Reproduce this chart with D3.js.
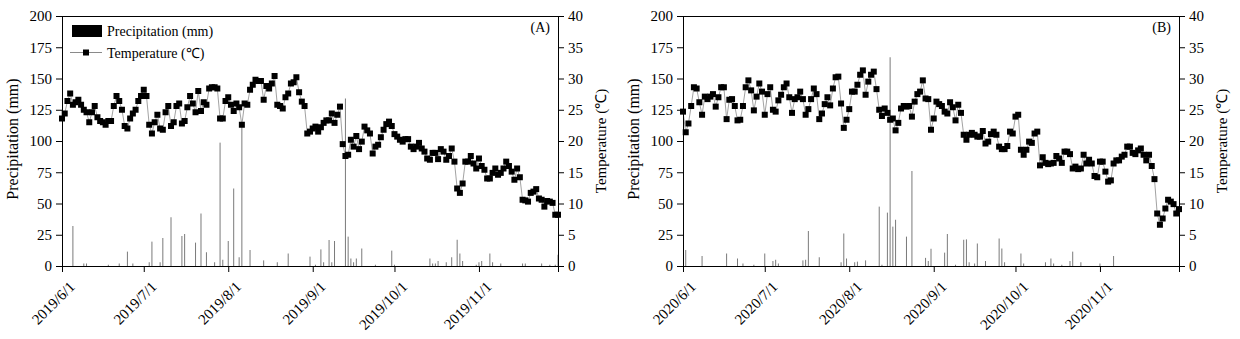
<!DOCTYPE html>
<html>
<head>
<meta charset="utf-8">
<script src="https://cdn.jsdelivr.net/npm/d3@7/dist/d3.min.js"></script>
<style>
body { margin: 0; background: #fff; }
svg text { font-family: "Liberation Serif", "Times New Roman", serif; fill: #000; }
</style>
</head>
<body>
<div id="vis"></div>
<script>
// daily mean temperature (C), 6/1 .. 11/30
var tempA = [23.6,24.4,26.4,27.6,25.8,26.2,26.6,25.8,25.0,24.6,23.0,24.6,25.6,23.8,23.2,23.0,22.6,23.2,23.2,25.6,
	27.2,26.4,25.0,22.4,22.0,23.6,24.4,25.0,26.4,27.2,28.2,27.2,22.6,21.2,23.0,24.2,22.0,21.8,24.6,25.6,
	22.4,23.0,25.6,26.0,22.8,23.2,25.4,27.2,26.0,24.6,28.0,24.8,26.2,25.8,28.4,28.6,28.6,28.4,23.6,23.6,
	26.4,27.0,25.8,24.8,26.0,25.4,22.6,26.0,25.8,28.2,29.0,29.8,29.6,29.6,26.6,28.8,28.4,29.2,30.4,25.8,
	25.6,25.2,27.0,27.6,29.2,29.4,30.2,27.8,26.3,25.6,21.2,21.5,22.0,22.3,21.5,22.2,22.9,23.3,23.3,24.4,
	22.9,24.2,25.5,19.5,17.6,17.8,20.2,19.1,20.8,18.7,19.9,22.3,21.7,21.2,18.0,19.1,19.4,20.6,21.8,22.7,
	23.1,22.4,21.1,20.7,20.2,19.9,20.3,20.3,19.1,18.7,19.1,19.7,18.8,18.3,17.2,17.0,18.1,18.1,17.1,18.7,
	18.3,17.0,17.6,18.8,16.7,12.4,11.7,13.2,16.7,16.7,17.6,16.4,15.6,17.2,16.0,15.4,14.0,14.0,14.9,15.6,
	14.6,14.9,15.6,16.7,16.0,15.1,13.8,15.6,14.2,10.6,10.5,10.3,11.7,11.9,12.3,10.8,10.6,9.5,10.4,10.3,
	10.1,8.2,8.2];
var tempB = [24.7,21.4,22.8,25.6,28.6,28.4,26.2,24.2,27.1,26.7,27.1,27.5,25.5,27.0,28.6,28.6,23.5,26.6,26.7,25.6,
	23.3,23.4,25.6,28.6,29.7,28.1,24.9,27.1,29.2,27.9,24.2,27.5,28.6,25.0,24.7,26.5,27.4,28.6,29.2,27.0,
	24.5,26.7,27.0,27.9,26.7,24.2,25.1,26.7,28.4,27.5,23.5,24.4,25.9,27.0,25.7,28.4,30.2,30.3,26.0,22.1,
	23.4,25.1,27.9,27.9,29.0,30.6,31.3,27.4,29.5,30.6,31.1,28.3,25.0,24.0,25.2,24.5,23.4,23.6,21.7,22.9,
	25.2,25.6,25.5,25.6,23.9,26.3,27.5,27.9,29.7,26.8,26.7,21.8,23.6,26.3,25.9,25.6,24.7,24.4,26.2,25.4,
	23.3,25.8,24.5,21.0,20.2,21.0,21.3,21.0,20.7,20.7,21.6,19.6,19.9,21.1,21.5,21.0,19.1,18.7,18.7,19.2,
	21.5,21.2,23.9,24.2,18.6,17.8,18.6,19.9,19.7,21.2,21.5,16.1,17.4,16.5,16.3,16.4,16.5,17.6,17.2,16.5,
	18.3,18.3,17.9,15.6,15.9,15.5,15.6,17.8,16.4,17.0,16.4,14.4,14.2,16.7,16.7,15.1,13.5,13.7,16.4,16.9,
	16.9,17.5,17.8,19.1,19.1,18.1,17.9,18.5,18.8,17.8,16.9,17.8,16.0,13.9,8.4,6.6,7.6,9.2,10.6,10.3,
	9.9,8.4,9.1];

// rain days (days after 6/1) and amounts (mm)
var rainDayA = [4,8,9,17,21,24,26,32,33,36,37,40,44,45,49,51,53,56,58,59,61,63,65,66,69,74,79,83,91,93,
	95,96,98,99,100,104,105,106,107,108,110,115,121,122,135,136,137,138,141,143,145,146,147,152,153,154,
	157,158,161,169,170,176,179,181,182];
var rainA = [32,2,2,1,2,11.5,2,3,19.5,3,22.4,39,24,25.6,18.7,42,11,3,98.7,5,20,62,7,115,12.8,4.5,3,10,7.5,1,
	13.3,3,20.8,3,20,134,23.5,6,3,6,14,1,12.3,1,6,2,2,4,3,7,21,10,4,1,3,4,
	10,3,2,2,2,2,1,1,9];
var rainDayB = [1,7,16,20,22,26,30,33,34,35,44,45,46,50,58,59,60,63,64,67,72,73,75,76,77,78,82,84,89,90,
	91,96,97,100,103,104,105,107,108,111,116,117,118,124,125,133,135,136,139,142,143,146,153,158];
var rainB = [12.8,8,10,6,2,1,10,4,5,2,4.5,5,28,7,3,26,6,3,3.5,4.5,47.5,1,42.7,167,31.5,37,23.5,76,6.5,4,
	13.8,10.7,25.6,1,21,21.3,3,2,18,4,22,14,3,10,2,3,6,2,1,4,11.5,3,2,8];

var precipTicks = [0,25,50,75,100,125,150,175,200];
var tempTicks = [0,5,10,15,20,25,30,35,40];

var W = 1240, H = 339;
var svg = d3.select("#vis").append("svg")
	.attr("width", W)
	.attr("height", H);

function drawPanel(opts) {
	var top = 16, bottom = 266;
	var start = new Date(opts.year, 5, 1),
		end = new Date(opts.year, 10, 30);
	var x = d3.scaleTime()
		.domain([start, end])
		.range([opts.left, opts.right]);
	var yP = d3.scaleLinear().domain([0, 200]).range([bottom, top]);
	var yT = d3.scaleLinear().domain([0, 40]).range([bottom, top]);
	var day = function(i){ return d3.timeDay.offset(start, i); };

	var g = svg.append("g");

	// precipitation bars
	g.selectAll(".bar")
		.data(opts.rainDay.map(function(d, i){ return {d: d, v: opts.rain[i]}; }))
		.enter().append("line")
		.attr("class", "bar")
		.attr("x1", function(d){ return x(day(d.d)); })
		.attr("x2", function(d){ return x(day(d.d)); })
		.attr("y1", yP(0))
		.attr("y2", function(d){ return yP(d.v); })
		.attr("stroke", "#7a7a7a")
		.attr("stroke-width", 1);

	// temperature line + markers
	var line = d3.line()
		.x(function(d, i){ return x(day(i)); })
		.y(function(d){ return yT(d); });
	g.append("path")
		.datum(opts.temp)
		.attr("d", line)
		.attr("fill", "none")
		.attr("stroke", "#8a8a8a")
		.attr("stroke-width", 0.8);
	g.selectAll(".pt")
		.data(opts.temp)
		.enter().append("rect")
		.attr("class", "pt")
		.attr("x", function(d, i){ return x(day(i)) - 3; })
		.attr("y", function(d){ return yT(d) - 3; })
		.attr("width", 6)
		.attr("height", 6)
		.attr("fill", "#000");

	// frame top
	g.append("line")
		.attr("x1", opts.left).attr("x2", opts.right)
		.attr("y1", top + 0.5).attr("y2", top + 0.5)
		.attr("stroke", "#000");

	// left axis
	var minorP = d3.range(12.5, 200, 25);
	var ax = g.append("g").attr("transform", "translate(" + opts.left + ",0)");
	ax.call(d3.axisLeft(yP).tickValues(minorP).tickSize(3).tickFormat(""));
	ax.call(d3.axisLeft(yP).tickValues(precipTicks).tickSize(6).tickPadding(4));
	ax.selectAll("text").style("font-size", "15px");
	ax.append("text")
		.attr("transform", "rotate(-90)")
		.attr("x", -(top + bottom) / 2 + 2)
		.attr("y", -44)
		.attr("text-anchor", "middle")
		.style("font-size", "16px")
		.text("Precipitation (mm)");

	// right axis
	var minorT = d3.range(2.5, 40, 5);
	var ay = g.append("g").attr("transform", "translate(" + opts.right + ",0)");
	ay.call(d3.axisRight(yT).tickValues(minorT).tickSize(3).tickFormat(""));
	ay.call(d3.axisRight(yT).tickValues(tempTicks).tickSize(6).tickPadding(4));
	ay.selectAll("text").style("font-size", "15px");
	ay.append("text")
		.attr("transform", "rotate(-90)")
		.attr("x", -(top + bottom) / 2)
		.attr("y", 48)
		.attr("text-anchor", "middle")
		.style("font-size", "15px")
		.text("Temperature (℃)");

	// bottom axis
	var months = d3.timeMonth.range(start, d3.timeDay.offset(end, 1));
	var mids = months.map(function(m){ return d3.timeDay.offset(m, 14); });
	var axb = g.append("g").attr("transform", "translate(0," + bottom + ")");
	axb.call(d3.axisBottom(x).tickValues(mids).tickSize(4).tickFormat(""));
	axb.call(d3.axisBottom(x).tickValues(months).tickSize(6).tickFormat(""));
	axb.selectAll(".domain").attr("stroke", "#000");
	axb.selectAll(".mlab")
		.data(months)
		.enter().append("text")
		.attr("class", "mlab")
		.attr("transform", function(d){ return "translate(" + (x(d) + 10) + ",18) rotate(-45)"; })
		.attr("text-anchor", "end")
		.attr("dy", "0.35em")
		.style("font-size", "15px")
		.text(function(d){ return d.getFullYear() + "/" + (d.getMonth() + 1) + "/" + d.getDate(); });

	g.append("text")
		.attr("x", opts.right - 8)
		.attr("y", 32)
		.attr("text-anchor", "end")
		.style("font-size", "14px")
		.text(opts.tag);
	return g;
}

var gA = drawPanel({year: 2019, left: 62, right: 558, temp: tempA, rainDay: rainDayA, rain: rainA, tag: "(A)"});
drawPanel({year: 2020, left: 683, right: 1179, temp: tempB, rainDay: rainDayB, rain: rainB, tag: "(B)"});

// legend
var lg = gA.append("g");
lg.append("rect")
	.attr("x", 72).attr("y", 25)
	.attr("width", 30).attr("height", 12)
	.attr("fill", "#000");
lg.append("text")
	.attr("x", 107).attr("y", 36)
	.style("font-size", "14px")
	.text("Precipitation (mm)");
lg.append("line")
	.attr("x1", 70).attr("x2", 102)
	.attr("y1", 52.5).attr("y2", 52.5)
	.attr("stroke", "#8a8a8a");
lg.append("rect")
	.attr("x", 83).attr("y", 49.5)
	.attr("width", 6).attr("height", 6)
	.attr("fill", "#000");
lg.append("text")
	.attr("x", 107).attr("y", 58)
	.style("font-size", "14px")
	.text("Temperature (℃)");
</script>
</body>
</html>
